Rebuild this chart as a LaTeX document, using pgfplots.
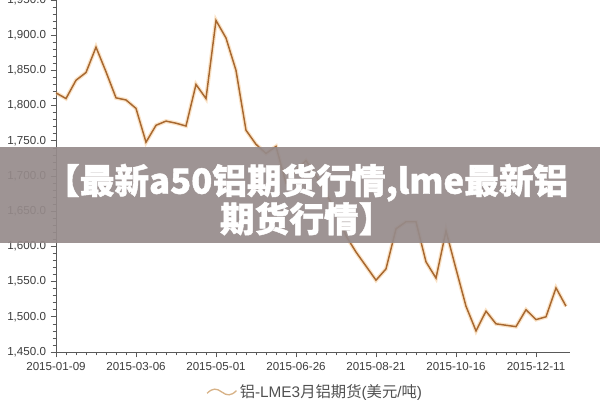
\documentclass[border=0pt]{standalone}
\usepackage{pgfplots}
\pgfplotsset{compat=1.18}
\usepackage{fontspec}
\setmainfont{Liberation Sans}
\newfontfamily\cjk{Noto Sans CJK SC}
\newfontfamily\cjkt{Noto Sans CJK SC}[BoldFeatures={FakeBold=1.2}]
\definecolor{lineBrown}{RGB}{168,104,48}
\definecolor{glow}{RGB}{245,200,145}
\definecolor{band}{RGB}{150,139,139}
\definecolor{tickgray}{RGB}{60,60,60}
\definecolor{legtxt}{RGB}{80,80,80}
\definecolor{legwave}{RGB}{215,178,135}

% weekly closes, week index from 2015-01-09
\pgfplotstableread{
w v
0 1818
1 1810
2 1836
3 1847
4 1883
5 1848
6 1811
7 1808
8 1796
9 1748
10 1772
11 1778
12 1775
13 1771
14 1830
15 1810
16 1921
17 1896
18 1850
19 1765
20 1745
21 1732
22 1742
23 1690
24 1708
25 1722
26 1700
27 1675
28 1650
29 1615
30 1592
31 1572
32 1552
33 1568
34 1625
35 1635
36 1635
37 1578
38 1555
39 1622
40 1568
41 1515
42 1480
43 1508
44 1490
45 1488
46 1486
47 1510
48 1496
49 1500
50 1541
51 1515
}\lme

\begin{document}
\begin{tikzpicture}
\useasboundingbox (-42pt,-36pt) rectangle (408pt,264pt);
\clip (-42pt,-36pt) rectangle (408pt,264pt);
\begin{axis}[
  at={(0,0)}, anchor=south west,
  scale only axis,
  width=385.5pt, height=264pt,
  xmin=0, xmax=51.4,
  ymin=1450, ymax=1950,
  axis x line*=bottom, axis y line*=left,
  axis line style={-, draw=gray!70!black, line width=0.6pt},
  tick align=outside,
  major tick length=4pt, minor tick length=2.5pt,
  tick style={draw=gray!70!black, line width=0.5pt},
  xtick={0,8,16,24,32,40,48},
  xticklabels={2015-01-09,2015-03-06,2015-05-01,2015-06-26,2015-08-21,2015-10-16,2015-12-11},
  minor x tick num=7,
  ytick={1450,1500,...,1950},
  minor y tick num=4,
  yticklabel={\pgfmathprintnumber[fixed,fixed zerofill,precision=1,1000 sep={,}]{\tick}},
  /pgf/number format/assume math mode=true,
  ticklabel style={font=\fontsize{8.7pt}{10pt}\selectfont, text=tickgray},
  legend style={at={(0.505,-0.1136)}, anchor=center, draw=none, fill=none,
    font=\fontsize{11.5pt}{13pt}\selectfont, text=legtxt},
  legend image code/.code={
    \draw[legwave, line width=1pt] (0pt,-1pt) .. controls (4pt,3pt) and (7pt,3pt) .. (11pt,0pt)
      .. controls (15pt,-3pt) and (18pt,-3pt) .. (22pt,1pt);},
]
\addplot[glow, line width=3pt, opacity=0.5, forget plot] table[x=w, y=v] {\lme};
\addplot[lineBrown, line width=1.1pt] table[x=w, y=v] {\lme};
\addlegendentry{{\cjk 铝}-LME3{\cjk 月铝期货}({\cjk 美元}/{\cjk 吨})}
\end{axis}
\fill[band, opacity=0.92] (-42pt,81.75pt) rectangle (408pt,153.75pt);
\node[text=white, font=\cjkt\bfseries\fontsize{26pt}{30pt}\selectfont] at (188pt,127pt) {【最新a50铝期货行情,lme最新铝};
\node[text=white, font=\cjkt\bfseries\fontsize{26pt}{30pt}\selectfont] at (188pt,100pt) {期货行情】};
\end{tikzpicture}
\end{document}
